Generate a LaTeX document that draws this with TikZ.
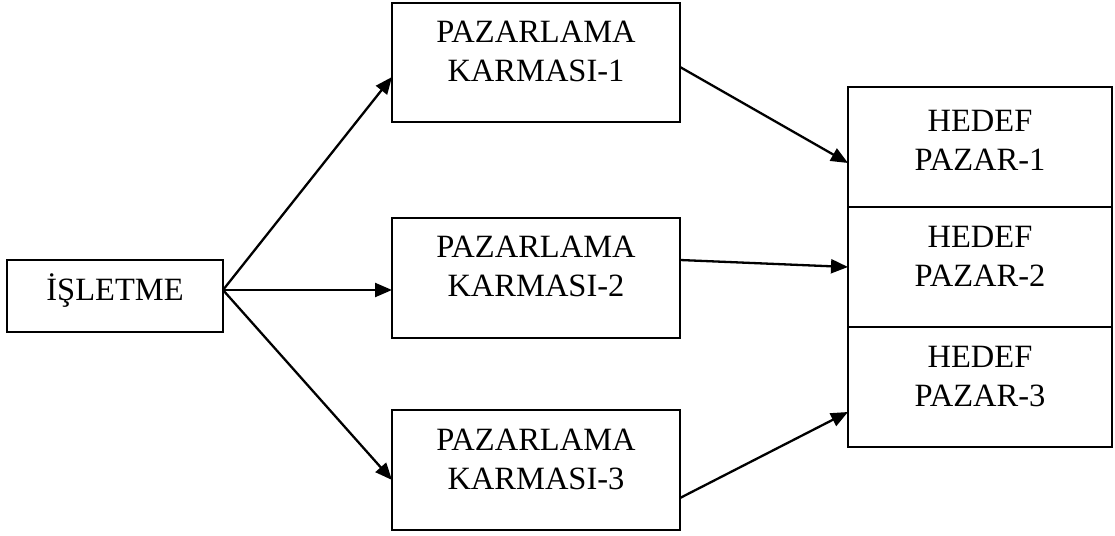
\documentclass[tikz,border=0pt]{standalone}
\usepackage{fontspec}
\setmainfont{Liberation Serif}
\usetikzlibrary{arrows.meta}
\begin{document}
\begin{tikzpicture}[x=1pt,y=1pt,
  box/.style={draw, line width=2.3pt, rectangle, inner sep=0pt, outer sep=0pt},
  lbl/.style={anchor=base, inner sep=0pt, font=\fontsize{32.5}{38.5}\selectfont},
  conn/.style={line width=2.3pt, -{Triangle[length=17pt,width=14pt]}}]
\useasboundingbox (0,0) rectangle (1115,535);
% left box
\node[box, minimum width=216, minimum height=72] (isl) at (115,239) {};
\node[lbl] (islt) at (115,234) {İŞLETME};
% middle boxes
\node[box, minimum width=288, minimum height=119] (pk1) at (536,472.5) {};
\node[lbl] (pk1t) at (536,492) {\begin{tabular}[t]{@{}c@{}}PAZARLAMA\\KARMASI-1\end{tabular}};
\node[box, minimum width=288, minimum height=120] (pk2) at (536,257) {};
\node[lbl] (pk2t) at (536,277) {\begin{tabular}[t]{@{}c@{}}PAZARLAMA\\KARMASI-2\end{tabular}};
\node[box, minimum width=288, minimum height=120] (pk3) at (536,65) {};
\node[lbl] (pk3t) at (536,84) {\begin{tabular}[t]{@{}c@{}}PAZARLAMA\\KARMASI-3\end{tabular}};
% right stack
\node[box, minimum width=264, minimum height=120] (h1) at (980,388) {};
\node[lbl] (h1t) at (980,403) {\begin{tabular}[t]{@{}c@{}}HEDEF\\PAZAR-1\end{tabular}};
\node[box, minimum width=264, minimum height=120] (h2) at (980,268) {};
\node[lbl] (h2t) at (980,287) {\begin{tabular}[t]{@{}c@{}}HEDEF\\PAZAR-2\end{tabular}};
\node[box, minimum width=264, minimum height=120] (h3) at (980,148) {};
\node[lbl] (h3t) at (980,167) {\begin{tabular}[t]{@{}c@{}}HEDEF\\PAZAR-3\end{tabular}};
% connectors
\draw[conn] ([yshift=6pt]isl.east) -- ([yshift=-14.5pt]pk1.west);
\draw[conn] ([yshift=6pt]isl.east) -- ([yshift=-12pt]pk2.west);
\draw[conn] ([yshift=6pt]isl.east) -- ([yshift=-10pt]pk3.west);
\draw[conn] ([yshift=-4.5pt]pk1.east) -- ([yshift=-16pt]h1.west);
\draw[conn] ([yshift=18pt]pk2.east) -- (h2.west);
\draw[conn] ([yshift=-28pt]pk3.east) -- ([yshift=-25pt]h3.west);
\end{tikzpicture}
\end{document}
